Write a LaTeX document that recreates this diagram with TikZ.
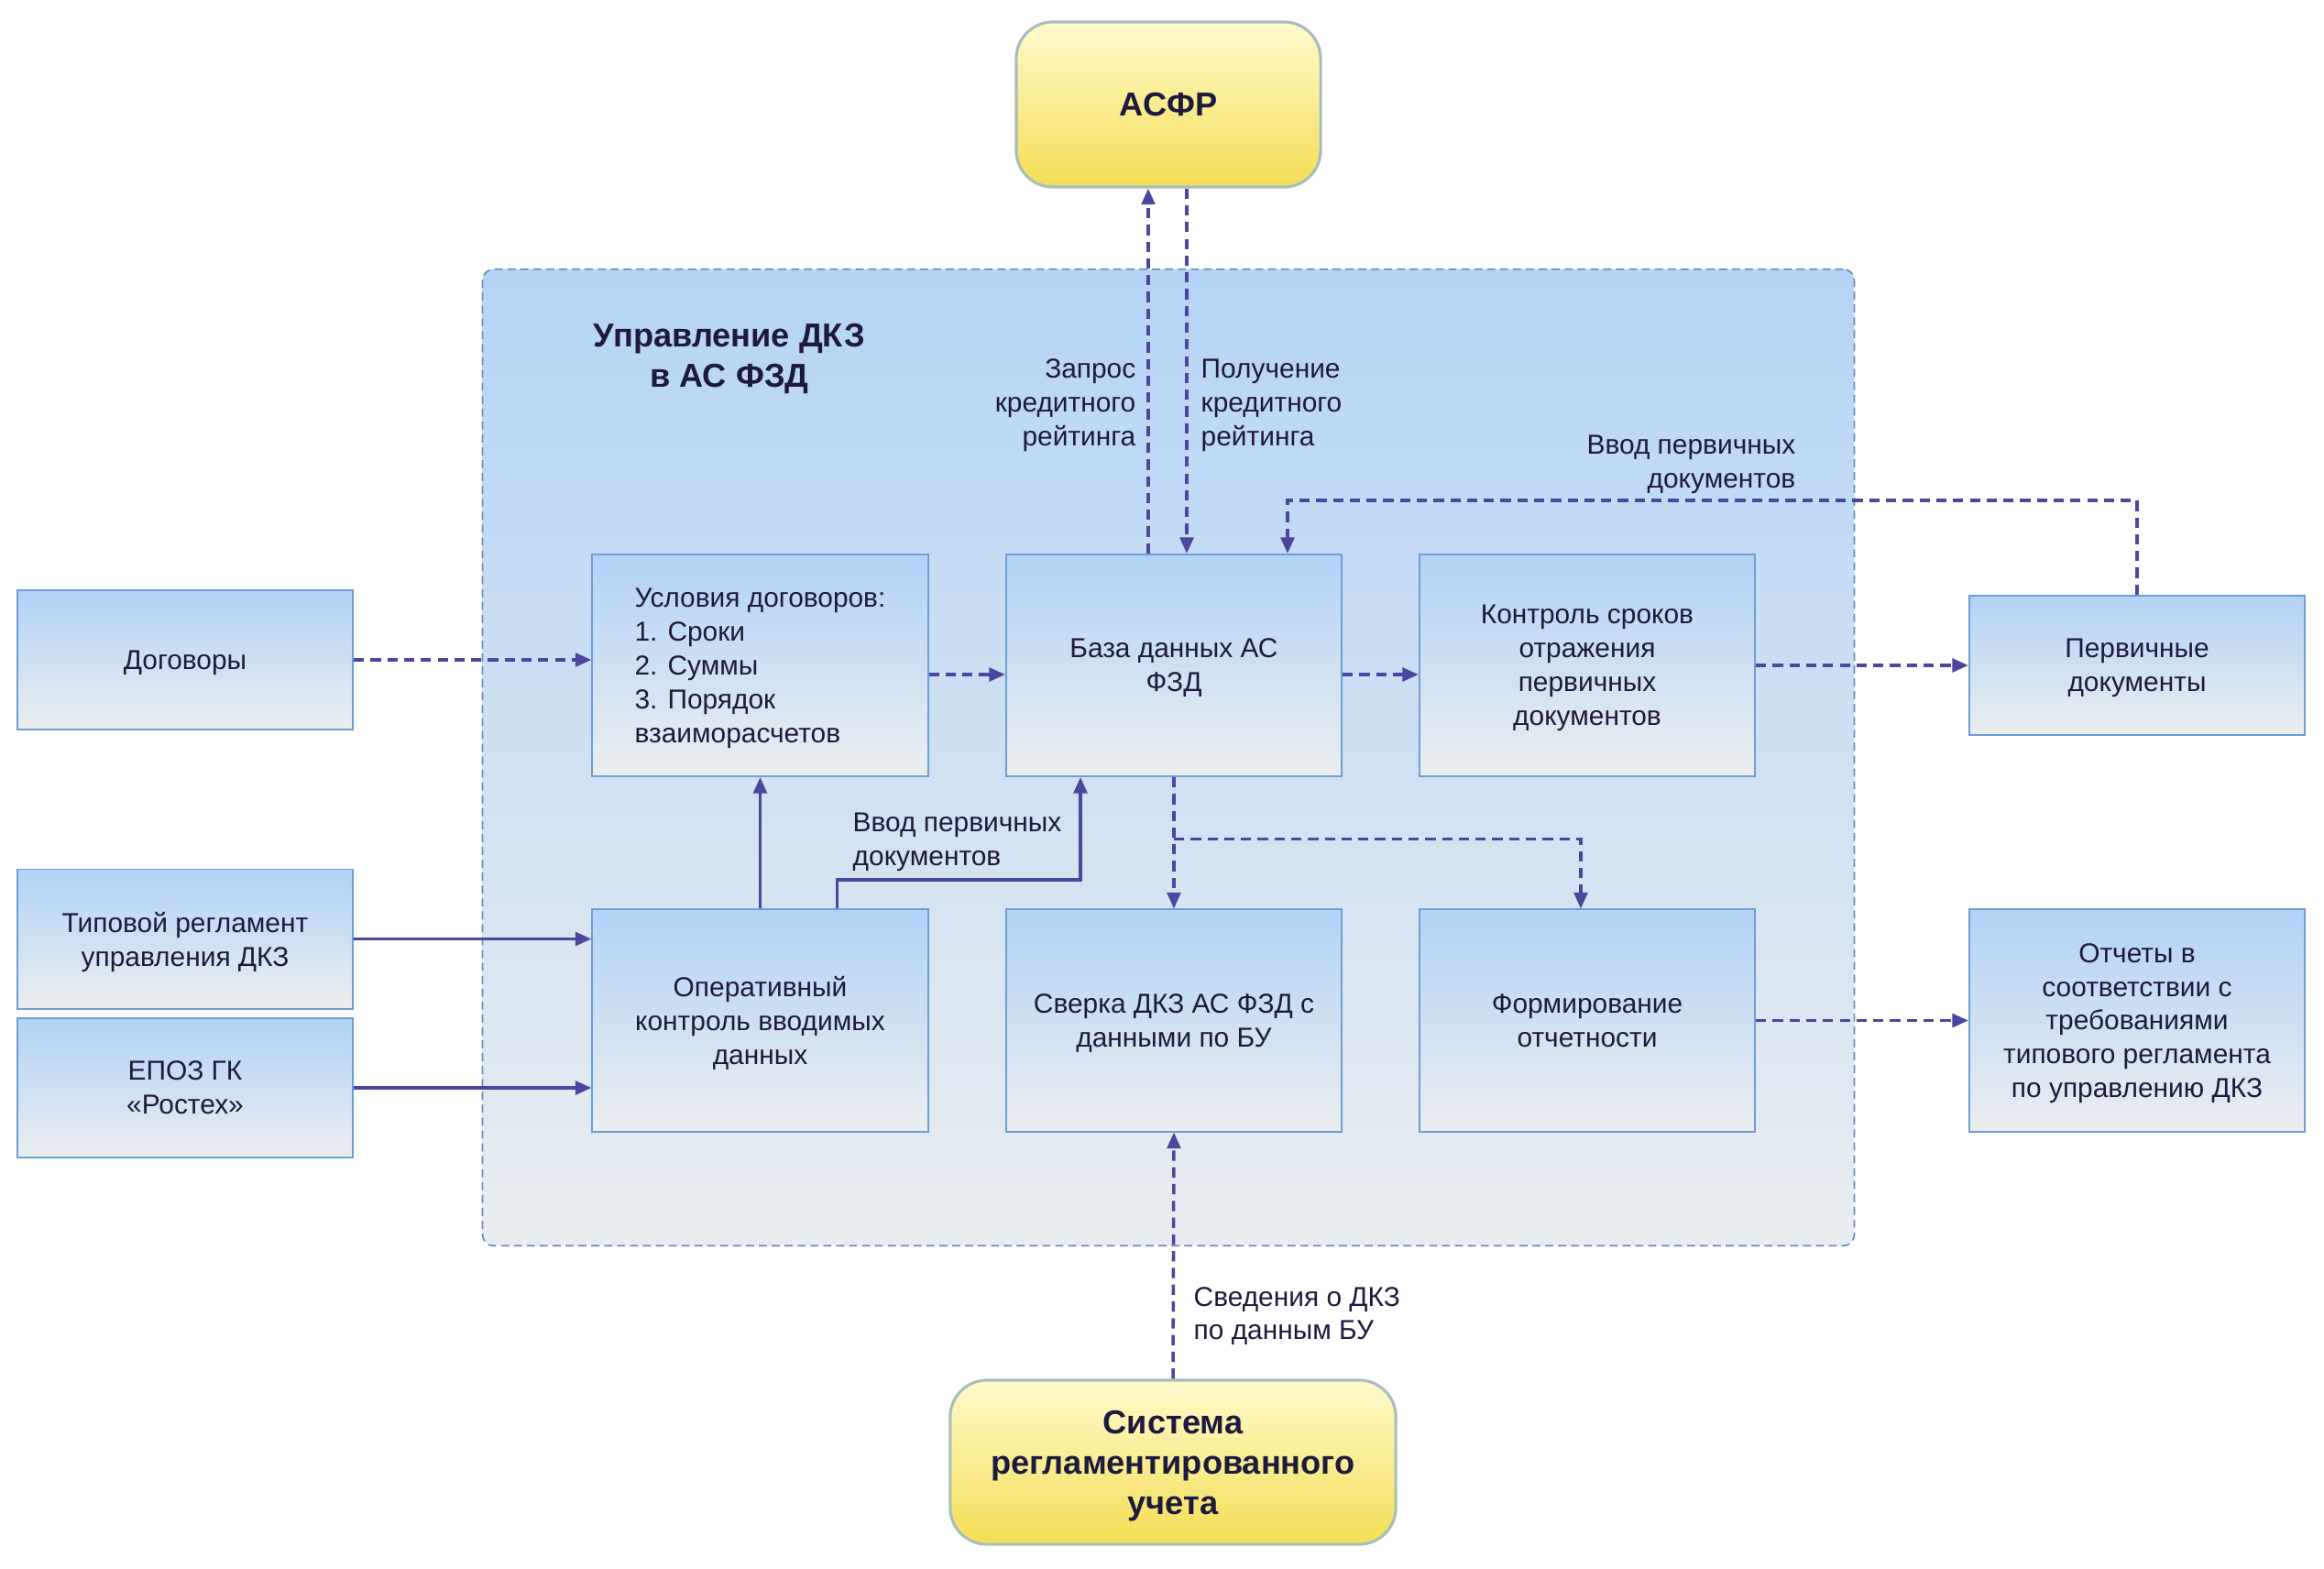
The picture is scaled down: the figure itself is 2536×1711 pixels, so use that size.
\documentclass[tikz,border=0pt]{standalone}
\usepackage{fontspec}
\setmainfont{Liberation Sans}
\usepackage{xcolor}
\usetikzlibrary{
    arrows.meta,
    calc,
    positioning
}
\definecolor{boxtop}{HTML}{B1D3F6}
\definecolor{boxbot}{HTML}{EBEEF0}
\definecolor{boxline}{HTML}{6E9ED4}
\definecolor{zonetop}{HTML}{B4D5F6}
\definecolor{zonebot}{HTML}{E9EDF0}
\definecolor{zoneline}{HTML}{6A8EBD}
\definecolor{systop}{HTML}{FFFACC}
\definecolor{sysbot}{HTML}{F5DE55}
\definecolor{sysline}{HTML}{A9BEBC}
\definecolor{flow}{HTML}{4B469E}
\definecolor{ink}{HTML}{1E1A3D}

\begin{document}
\begin{tikzpicture}[x=0.01cm, y=-0.01cm,
    unit/.style={draw=boxline, line width=0.55pt, top color=boxtop, bottom color=boxbot, minimum width=3.66cm, minimum height=2.42cm, align=center, text=ink, font=\fontsize{8.5}{10.5}\selectfont, inner sep=2pt, text depth=-1.4pt},
    outer/.style={unit, minimum height=1.52cm},
    system/.style={draw=sysline, line width=0.9pt, rounded corners=0.4cm, top color=systop, bottom color=sysbot, align=center, text=ink, font=\fontsize{10.3}{12.5}\selectfont\bfseries, text depth=-1.5pt},
    flowdash/.style={draw=flow, line width=1pt, dash pattern=on 3.2pt off 2pt, -{Triangle[length=5pt,width=4.2pt]}},
    flowline/.style={draw=flow, line width=1pt, -{Triangle[length=5pt,width=4.2pt]}},
    note/.style={text=ink, font=\fontsize{8.5}{10.5}\selectfont, inner sep=0pt}
]
    \useasboundingbox (0,0) rectangle (2536,1711);

    \node[draw=zoneline, line width=0.5pt, dash pattern=on 2.5pt off 1.5pt, rounded corners=0.12cm, top color=zonetop, bottom color=zonebot, minimum width=14.96cm, minimum height=10.65cm] (zone) at (1275,826.5) {};
    \node[text=ink, font=\fontsize{10.3}{12.5}\selectfont\bfseries, align=center] (title) at (796,391) {Управление ДКЗ\\в АС ФЗД};

    \node[system, minimum width=3.32cm, minimum height=1.80cm] (asfr) at (1275,114) {АСФР};
    \node[system, minimum width=4.86cm, minimum height=1.79cm] (sist) at (1280,1595.5) {Система\\регламентированного\\учета};

    \node[unit, align=left] (usl) at (829.5,726) {Условия договоров:\\1. Сроки\\2. Суммы\\3. Порядок\\взаиморасчетов};
    \node[unit] (baza) at (1281,726) {База данных АС\\ФЗД};
    \node[unit] (kontr) at (1732,726) {Контроль сроков\\отражения\\первичных\\документов};
    \node[unit] (oper) at (829.5,1113.5) {Оперативный\\контроль вводимых\\данных};
    \node[unit] (sverka) at (1281,1113.5) {Сверка ДКЗ АС ФЗД с\\данными по БУ};
    \node[unit] (form) at (1732,1113.5) {Формирование\\отчетности};

    \node[outer] (dog) at (202,720) {Договоры};
    \node[outer] (tip) at (202,1024.5) {Типовой регламент\\управления ДКЗ};
    \node[outer] (epoz) at (202,1187) {ЕПОЗ ГК\\«Ростех»};
    \node[outer] (perv) at (2332,726) {Первичные\\документы};
    \node[unit] (otch) at (2332,1113.5) {Отчеты в\\соответствии с\\требованиями\\типового регламента\\по управлению ДКЗ};

    \draw[flowdash] ($(baza.north)+(-28,0)$) coordinate (req) -- (req |- asfr.south);
    \draw[flowdash] ($(asfr.south)+(20,0)$) coordinate (get) -- (get |- baza.north);
    \draw[flowdash] (perv.north) |- ($(baza.north)+(124,-58)$) coordinate (inp) -- (inp |- baza.north);
    \draw[flowdash] (dog.east) -- (dog.east -| usl.west);
    \draw[flowdash] ($(usl.east)+(0,10)$) coordinate (u1) -- (u1 -| baza.west);
    \draw[flowdash] ($(baza.east)+(0,10)$) coordinate (b1) -- (b1 -| kontr.west);
    \draw[flowdash] (kontr.east) -- (perv.west);
    \draw[flowdash] (baza.south) -- (sverka.north);
    \draw[flowdash] ($(baza.south)!0.47!(sverka.north)$) -| ($(form.north)+(-7,0)$);
    \draw[flowline] (tip.east) -- (tip.east -| oper.west);
    \draw[flowline] (epoz.east) -- (epoz.east -| oper.west);
    \draw[flowline] (oper.north) -- (usl.south);
    \draw[flowline] ($(oper.north)+(84,0)$) |- ($(baza.south)+(-102,112)$) coordinate (v1) -- (v1 |- baza.south);
    \draw[flowdash] (form.east) -- (otch.west);
    \draw[flowdash] (sist.north) -- (sverka.south);

    \node[note, anchor=east, align=right] (reqlbl) at (1240,442) {Запрос\\кредитного\\рейтинга};
    \node[note, anchor=west, align=left] (getlbl) at (1310,442) {Получение\\кредитного\\рейтинга};
    \node[note, anchor=east, align=right] (inplbl) at (1960,507) {Ввод первичных\\документов};
    \node[note, anchor=west, align=left] (oplbl) at (930,919) {Ввод первичных\\документов};
    \node[note, anchor=west, align=left] (bulbl) at (1302,1436) {Сведения о ДКЗ\\по данным БУ};
\end{tikzpicture}
\end{document}
